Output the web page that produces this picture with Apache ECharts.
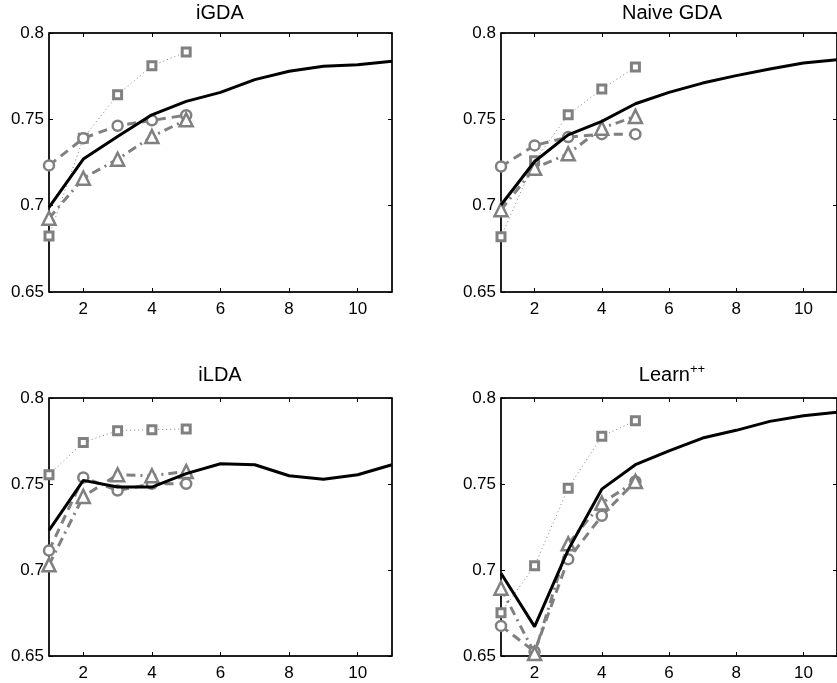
<!DOCTYPE html>
<html>
<head>
<meta charset="utf-8">
<script src="https://cdn.jsdelivr.net/npm/echarts@6/dist/echarts.min.js"></script>
<style>
html,body{margin:0;padding:0;background:#fff;}
#main{width:837px;height:683px;}
</style>
</head>
<body>
<div id="main"></div>
<script>
// ---- data ----
const xValues = [1,2,3,4,5,6,7,8,9,10,11];
const xShort = [1,2,3,4,5];
const panelTitles = ['iGDA', 'Naive GDA', 'iLDA', 'Learn++'];
const xTickLabels = [2,4,6,8,10];
const yTickLabels = [0.65,0.7,0.75,0.8];

const igdaBlack    = [0.699,0.727,0.740,0.7526,0.7604,0.7656,0.773,0.7778,0.7807,0.7816,0.7836];
const igdaSquare   = [0.6825,0.739,0.7642,0.781,0.789];
const igdaCircle   = [0.7233,0.739,0.7463,0.7494,0.7524];
const igdaTriangle = [0.6927,0.7159,0.7269,0.740,0.7497];

const naiveBlack    = [0.7004,0.7256,0.741,0.7488,0.759,0.7656,0.771,0.7753,0.7791,0.7826,0.7845];
const naiveSquare   = [0.682,0.726,0.7526,0.7675,0.7803];
const naiveCircle   = [0.7227,0.7349,0.7397,0.7414,0.7414];
const naiveTriangle = [0.6976,0.7217,0.730,0.7449,0.7517];

const ildaBlack    = [0.723,0.7521,0.7482,0.7482,0.756,0.7618,0.7612,0.7548,0.7528,0.7554,0.7612];
const ildaSquare   = [0.7554,0.7742,0.781,0.7816,0.782];
const ildaCircle   = [0.7113,0.7538,0.7462,0.7501,0.7501];
const ildaTriangle = [0.703,0.7428,0.7554,0.7548,0.7573];

const learnBlack    = [0.6981,0.6671,0.7117,0.747,0.7612,0.7693,0.7767,0.7812,0.7864,0.7897,0.7917];
const learnSquare   = [0.6752,0.7024,0.7476,0.7777,0.7868];
const learnCircle   = [0.6675,0.6525,0.7063,0.7315,0.7515];
const learnTriangle = [0.6894,0.6515,0.7152,0.7389,0.7515];

const panels = [
  {black: igdaBlack,  square: igdaSquare,  circle: igdaCircle,  triangle: igdaTriangle},
  {black: naiveBlack, square: naiveSquare, circle: naiveCircle, triangle: naiveTriangle},
  {black: ildaBlack,  square: ildaSquare,  circle: ildaCircle,  triangle: ildaTriangle},
  {black: learnBlack, square: learnSquare, circle: learnCircle, triangle: learnTriangle}
];

// ---- layout ----
const grids = [
  {left: 49,  top: 33,  width: 343, height: 259},
  {left: 501, top: 33,  width: 342, height: 259},
  {left: 49,  top: 398, width: 343, height: 258},
  {left: 501, top: 398, width: 342, height: 258}
];
const titlePos = [[220, 13], [672, 13], [220, 375], [672, 375]];
const FONT = '"Liberation Sans", Arial, Helvetica, sans-serif';
const GRAY = '#808080';
const zip = (xs, ys) => ys.map((v, i) => [xs[i], v]);

const option = {
  animation: false,
  backgroundColor: '#fff',
  grid: grids.map(g => Object.assign({show: true, borderColor: '#000', borderWidth: 1, backgroundColor: '#fff'}, g)),
  xAxis: [], yAxis: [], series: [], graphic: []
};

grids.forEach((g, i) => {
  option.xAxis.push({
    type: 'value', gridIndex: i, min: 1, max: 11, position: 'bottom',
    splitLine: {show: false},
    axisLine: {show: true, onZero: false, lineStyle: {color: '#000', width: 1.5}},
    axisTick: {show: true, inside: true, length: 4, customValues: xTickLabels, lineStyle: {color: '#000'}},
    axisLabel: {show: true, customValues: xTickLabels, margin: 9, fontSize: 17, color: '#000', fontFamily: FONT}
  });
  option.xAxis.push({
    type: 'value', gridIndex: i, min: 1, max: 11, position: 'top',
    splitLine: {show: false},
    axisLine: {show: true, onZero: false, lineStyle: {color: '#000', width: 1.5}},
    axisTick: {show: true, inside: true, length: 4, customValues: xTickLabels, lineStyle: {color: '#000'}},
    axisLabel: {show: false}
  });
  option.yAxis.push({
    type: 'value', gridIndex: i, min: 0.65, max: 0.8, position: 'left',
    splitLine: {show: false},
    axisLine: {show: true, onZero: false, lineStyle: {color: '#000', width: 1.5}},
    axisTick: {show: true, inside: true, length: 4, customValues: yTickLabels, lineStyle: {color: '#000'}},
    axisLabel: {show: true, customValues: yTickLabels, margin: 5, fontSize: 17, color: '#000', fontFamily: FONT,
      formatter: v => String(Math.round(v * 100) / 100)}
  });
  option.yAxis.push({
    type: 'value', gridIndex: i, min: 0.65, max: 0.8, position: 'right',
    splitLine: {show: false},
    axisLine: {show: true, onZero: false, lineStyle: {color: '#000', width: 1.5}},
    axisTick: {show: true, inside: true, length: 4, customValues: yTickLabels, lineStyle: {color: '#000'}},
    axisLabel: {show: false}
  });

  const p = panels[i];
  const xi = i * 2, yi = i * 2;
  option.series.push({
    type: 'line', xAxisIndex: xi, yAxisIndex: yi, data: zip(xShort, p.square),
    symbol: 'rect', symbolSize: 8, itemStyle: {color: '#fff', borderColor: GRAY, borderWidth: 3},
    lineStyle: {color: GRAY, width: 1, type: [1, 3]}, z: 2
  });
  option.series.push({
    type: 'line', xAxisIndex: xi, yAxisIndex: yi, data: zip(xShort, p.circle),
    symbol: 'circle', symbolSize: 10, itemStyle: {color: '#fff', borderColor: GRAY, borderWidth: 2.5},
    lineStyle: {color: GRAY, width: 3, type: [9, 6]}, z: 3
  });
  option.series.push({
    type: 'line', xAxisIndex: xi, yAxisIndex: yi, data: zip(xShort, p.triangle),
    symbol: 'triangle', symbolSize: 13, itemStyle: {color: '#fff', borderColor: GRAY, borderWidth: 2.5},
    lineStyle: {color: GRAY, width: 3, type: [9, 5, 2, 5]}, z: 3
  });
  option.series.push({
    type: 'line', xAxisIndex: xi, yAxisIndex: yi, data: zip(xValues, p.black),
    symbol: 'none', lineStyle: {color: '#000', width: 3}, z: 4
  });

  let text = panelTitles[i];
  const rich = {a: {fontSize: 20, fontFamily: FONT, fill: '#000'}, b: {fontSize: 13, fontFamily: FONT, fill: '#000', padding: [0, 0, 11, 0]}};
  text = text === 'Learn++' ? '{a|Learn}{b|++}' : '{a|' + text + '}';
  option.graphic.push({
    type: 'text', x: titlePos[i][0], y: titlePos[i][1],
    style: {text: text, rich: rich, textAlign: 'center', textVerticalAlign: 'middle', fill: '#000', font: '20px ' + FONT}
  });
});

const chart = echarts.init(document.getElementById('main'), null, {renderer: 'canvas'});
chart.setOption(option);
</script>
</body>
</html>
